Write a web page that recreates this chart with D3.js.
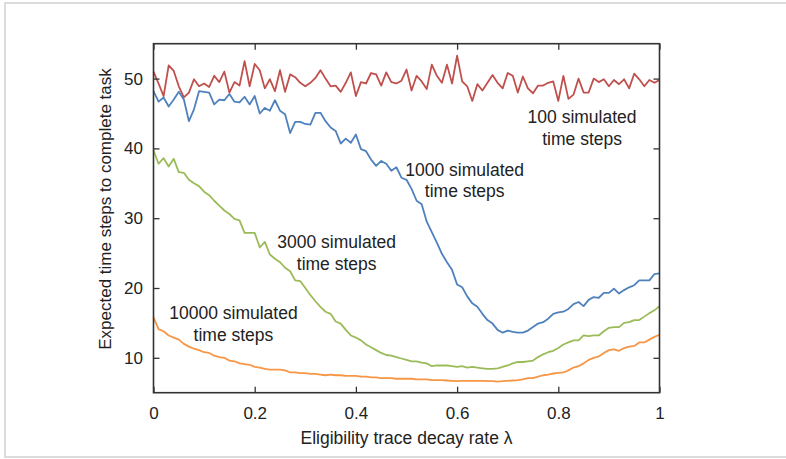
<!DOCTYPE html>
<html>
<head>
<meta charset="utf-8">
<script src="https://cdn.jsdelivr.net/npm/d3@7"></script>
<style>
  html, body { margin: 0; padding: 0; background: #fff; }
  svg { display: block; }
  text { font-family: "Liberation Sans", Arial, Helvetica, sans-serif; fill: #222; }
</style>
</head>
<body>
<svg id="chart" width="786" height="459"></svg>
<script>
// ---- data ----
const lambdaValues = d3.range(101).map(i => i / 100);
const xTicks = [0, 0.2, 0.4, 0.6, 0.8, 1];
const xTickLabels = ["0", "0.2", "0.4", "0.6", "0.8", "1"];
const yTicks = [10, 20, 30, 40, 50];
const yTickLabels = ["10", "20", "30", "40", "50"];

const steps100 = [51.0,49.3,47.5,51.9,51.1,48.9,47.3,48.0,49.9,48.9,49.3,48.8,50.4,49.5,51.0,48.0,49.5,49.0,52.5,48.9,
  52.1,51.2,48.6,49.9,48.2,51.2,48.1,50.6,50.2,49.4,48.9,49.4,50.1,51.2,50.0,48.9,49.0,48.1,49.4,50.9,
  47.5,49.5,49.3,50.8,50.6,49.0,50.9,49.5,49.3,49.7,51.3,48.3,50.4,49.6,48.5,52.0,50.4,49.4,52.0,49.3,
  53.3,49.6,48.9,46.8,49.2,48.3,49.4,50.5,49.4,48.6,50.8,50.4,48.0,50.3,48.6,47.9,49.0,49.0,49.4,49.6,
  46.8,50.4,47.1,47.7,50.0,48.0,48.0,50.0,49.5,49.9,48.9,49.8,49.2,49.9,48.6,50.7,49.9,48.9,49.8,49.4,49.8];
const steps1000 = [48.2,46.7,47.3,46.0,47.0,48.1,47.0,43.9,45.6,48.2,48.1,48.0,46.3,47.0,46.9,47.8,46.7,46.6,47.4,46.3,
  47.5,45.0,45.8,45.4,46.9,45.4,44.9,42.2,43.8,43.8,43.5,43.4,45.1,45.1,43.9,43.0,42.5,40.7,41.4,40.8,
  42.0,39.9,39.6,38.4,37.5,38.2,37.8,36.8,37.3,35.8,35.5,34.2,32.5,32.0,29.5,28.0,26.5,24.9,23.7,22.6,
  20.5,20.1,18.8,17.8,17.3,16.3,15.4,14.9,14.0,13.6,13.9,13.7,13.6,13.6,13.9,14.4,14.9,15.1,15.6,16.3,
  16.5,16.6,17.0,17.7,18.0,17.4,18.3,18.7,18.6,19.3,19.3,19.9,19.2,19.7,20.1,20.4,21.1,21.1,21.1,22.0,22.1];
const steps3000 = [39.7,37.8,38.6,37.4,38.5,36.6,36.5,35.5,35.0,34.6,33.8,33.3,32.5,31.8,31.1,30.6,29.9,29.7,27.9,27.9,
  27.9,25.8,26.6,24.8,24.2,23.7,22.9,22.4,21.1,21.0,20.0,19.0,18.1,17.3,16.6,16.3,15.2,14.9,14.0,13.2,
  12.9,12.5,11.9,11.5,11.1,10.7,10.4,10.3,10.1,9.9,9.7,9.5,9.5,9.3,9.2,8.8,8.9,8.9,8.9,8.8,
  8.7,8.8,8.6,8.7,8.6,8.5,8.4,8.4,8.5,8.7,8.9,9.2,9.4,9.4,9.5,9.6,10.1,10.5,10.8,11.0,
  11.4,11.9,12.2,12.5,12.5,13.2,13.1,13.2,13.2,13.8,14.3,14.4,14.4,15.0,15.1,15.4,15.4,15.9,16.4,16.8,17.4];
const steps10000 = [15.8,14.1,13.8,13.2,12.9,12.6,12.0,11.6,11.3,11.1,10.8,10.7,10.3,10.1,10.0,9.6,9.5,9.2,9.1,9.0,
  8.7,8.6,8.4,8.3,8.3,8.3,8.2,7.9,7.9,7.8,7.8,7.7,7.7,7.6,7.5,7.6,7.5,7.5,7.4,7.4,
  7.4,7.3,7.3,7.2,7.2,7.1,7.1,7.1,7.0,7.0,7.0,7.0,6.9,6.9,6.9,6.8,6.8,6.8,6.75,6.7,
  6.65,6.7,6.7,6.7,6.7,6.7,6.65,6.65,6.6,6.65,6.7,6.75,6.8,6.9,7.1,7.1,7.3,7.5,7.6,7.75,
  7.85,7.9,8.2,8.6,8.8,9.2,9.7,10.0,10.2,10.7,11.1,11.2,11.0,11.4,11.6,11.7,12.2,12.2,12.6,13.0,13.3];

const seriesNames = ["100", "1000", "3000", "10000"];
const seriesValues = [steps100, steps1000, steps3000, steps10000];
const seriesColors = ["#C0504D", "#4F81BD", "#9BBB59", "#F79646"];

const annotationLines = [
  ["100 simulated", "time steps"],
  ["1000 simulated", "time steps"],
  ["3000 simulated", "time steps"],
  ["10000 simulated", "time steps"]
];
const annotationLambda = [0.847, 0.615, 0.362, 0.158];
const annotationValue = [43.6, 36.1, 25.7, 15.5];

const xTitle = "Eligibility trace decay rate λ";
const yTitle = "Expected time steps to complete task";

// ---- drawing ----
const svg = d3.select("#chart");
const plot = { left: 153.5, right: 659.5, top: 43.7, bottom: 392.7 };

// outer frame
svg.append("rect")
  .attr("x", 5).attr("y", 3).attr("width", 820).attr("height", 454)
  .attr("fill", "none").attr("stroke", "#dcdcdc").attr("stroke-width", 2);

const x = d3.scaleLinear().domain([0, 1]).range([plot.left, plot.right]);
const y = d3.scaleLinear().domain([5, 55]).range([plot.bottom, plot.top]);

const fontSize = 17;

// lines
const line = d3.line().x((d, i) => x(lambdaValues[i])).y(d => y(d));
seriesValues.forEach((vals, k) => {
  svg.append("path")
    .datum(vals)
    .attr("fill", "none")
    .attr("stroke", seriesColors[k])
    .attr("stroke-width", 1.8)
    .attr("stroke-linejoin", "round")
    .attr("d", line);
});

// inward ticks on all four sides
const tickLen = 6;
const bottomTicks = d3.axisBottom(x).tickValues(xTicks).tickSizeInner(-tickLen).tickSizeOuter(0).tickFormat("");
const topTicks = d3.axisTop(x).tickValues(xTicks).tickSizeInner(-tickLen).tickSizeOuter(0).tickFormat("");
const leftTicks = d3.axisLeft(y).tickValues(yTicks).tickSizeInner(-tickLen).tickSizeOuter(0).tickFormat("");
const rightTicks = d3.axisRight(y).tickValues(yTicks).tickSizeInner(-tickLen).tickSizeOuter(0).tickFormat("");

function styleTicks(g) {
  g.select(".domain").remove();
  g.selectAll(".tick line").attr("stroke", "#333").attr("stroke-width", 1.3);
}
svg.append("g").attr("transform", `translate(0,${plot.bottom})`).call(bottomTicks).call(styleTicks);
svg.append("g").attr("transform", `translate(0,${plot.top})`).call(topTicks).call(styleTicks);
svg.append("g").attr("transform", `translate(${plot.left},0)`).call(leftTicks).call(styleTicks);
svg.append("g").attr("transform", `translate(${plot.right},0)`).call(rightTicks).call(styleTicks);

// tick labels
const xLabelAxis = d3.axisBottom(x).tickValues(xTicks).tickSize(0).tickPadding(14.5)
  .tickFormat((d, i) => xTickLabels[i]);
svg.append("g").attr("transform", `translate(0,${plot.bottom})`).call(xLabelAxis)
  .call(g => { g.select(".domain").remove();
    g.selectAll("text").attr("font-size", fontSize).attr("fill", "#222")
      .attr("font-family", '"Liberation Sans", Arial, sans-serif'); });

const yLabelAxis = d3.axisLeft(y).tickValues(yTicks).tickSize(0).tickPadding(10.5)
  .tickFormat((d, i) => yTickLabels[i]);
svg.append("g").attr("transform", `translate(${plot.left},0)`).call(yLabelAxis)
  .call(g => { g.select(".domain").remove();
    g.selectAll("text").attr("font-size", fontSize).attr("fill", "#222")
      .attr("font-family", '"Liberation Sans", Arial, sans-serif'); });

// plot box
svg.append("rect")
  .attr("x", plot.left).attr("y", plot.top)
  .attr("width", plot.right - plot.left).attr("height", plot.bottom - plot.top)
  .attr("fill", "none").attr("stroke", "#333").attr("stroke-width", 1.6);

// axis titles
svg.append("text")
  .attr("x", 406.5).attr("y", 444)
  .attr("text-anchor", "middle").attr("font-size", 17.5)
  .text(xTitle);
svg.append("text")
  .attr("transform", "translate(110.5,209) rotate(-90)")
  .attr("text-anchor", "middle").attr("font-size", 17)
  .text(yTitle);

// annotations
annotationLines.forEach((lines, k) => {
  const t = svg.append("text")
    .attr("x", x(annotationLambda[k]))
    .attr("y", y(annotationValue[k]))
    .attr("text-anchor", "middle")
    .attr("font-size", 17.5);
  lines.forEach((s, j) => {
    t.append("tspan").attr("x", x(annotationLambda[k])).attr("dy", j === 0 ? 0 : 21.5).text(s);
  });
});
</script>
</body>
</html>
